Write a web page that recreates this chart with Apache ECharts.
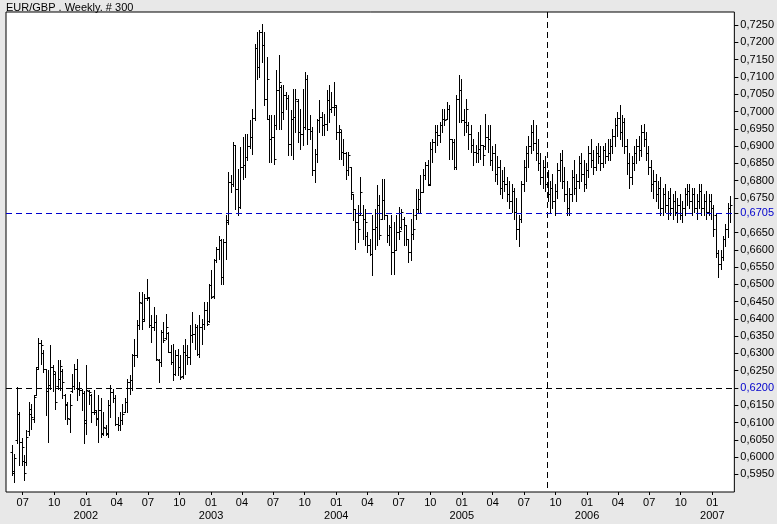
<!DOCTYPE html>
<html>
<head>
<meta charset="utf-8">
<script src="https://cdn.jsdelivr.net/npm/echarts@6/dist/echarts.min.js"></script>
<style>
html,body{margin:0;padding:0;background:#e8e8e8;}
#chart{width:777px;height:524px;}
</style>
</head>
<body>
<div id="chart"></div>
<script>
// Weekly EUR/GBP OHLC, 300 bars, first bar week of 2001-05-31
const firstWeek = '2001-05-31';
const opens = [
0.6015,0.5955,0.6050,0.6125,0.6045,0.5990,0.5985,0.6075,0.6125,0.6110,
0.6180,0.6260,0.6330,0.6300,0.6255,0.6190,0.6210,0.6260,0.6240,0.6205,
0.6225,0.6250,0.6180,0.6150,0.6110,0.6190,0.6205,0.6256,0.6200,0.6194,
0.6185,0.6100,0.6190,0.6180,0.6130,0.6130,0.6110,0.6135,0.6070,0.6085,
0.6068,0.6150,0.6188,0.6170,0.6097,0.6092,0.6106,0.6130,0.6160,0.6217,
0.6222,0.6294,0.6295,0.6382,0.6445,0.6400,0.6459,0.6460,0.6382,0.6377,
0.6390,0.6280,0.6275,0.6362,0.6345,0.6360,0.6304,0.6275,0.6241,0.6294,
0.6260,0.6235,0.6304,0.6294,0.6290,0.6352,0.6355,0.6377,0.6299,0.6377,
0.6386,0.6425,0.6395,0.6497,0.6465,0.6570,0.6603,0.6627,0.6521,0.6622,
0.6685,0.6796,0.6790,0.6902,0.6777,0.6725,0.6840,0.6845,0.6868,0.6900,
0.6926,0.6980,0.7185,0.7129,0.7230,0.7192,0.7037,0.6979,0.6921,0.6925,
0.6960,0.7061,0.7070,0.6999,0.7047,0.7040,0.6907,0.6979,0.6985,0.7030,
0.6941,0.6936,0.6955,0.7095,0.6950,0.6945,0.6830,0.6878,0.6975,0.6985,
0.6960,0.6965,0.7032,0.7008,0.7013,0.7013,0.6940,0.6940,0.6883,0.6880,
0.6830,0.6839,0.6762,0.6719,0.6680,0.6700,0.6700,0.6690,0.6640,0.6613,
0.6589,0.6661,0.6665,0.6729,0.6690,0.6743,0.6700,0.6642,0.6665,0.6594,
0.6600,0.6651,0.6665,0.6690,0.6671,0.6632,0.6594,0.6645,0.6700,0.6719,
0.6748,0.6767,0.6815,0.6844,0.6790,0.6892,0.6912,0.6941,0.6931,0.6960,
0.6979,0.6979,0.7008,0.6921,0.6912,0.6839,0.7037,0.7061,0.6975,0.6970,
0.6960,0.6936,0.6902,0.6883,0.6880,0.6892,0.6902,0.6900,0.6926,0.6920,
0.6860,0.6880,0.6820,0.6840,0.6780,0.6800,0.6790,0.6760,0.6740,0.6770,
0.6710,0.6660,0.6690,0.6790,0.6840,0.6880,0.6900,0.6940,0.6910,0.6880,
0.6850,0.6810,0.6840,0.6790,0.6760,0.6780,0.6740,0.6770,0.6830,0.6860,
0.6800,0.6760,0.6720,0.6760,0.6810,0.6780,0.6800,0.6850,0.6820,0.6790,
0.6830,0.6880,0.6860,0.6840,0.6880,0.6870,0.6850,0.6890,0.6870,0.6880,
0.6900,0.6930,0.6960,0.6980,0.6940,0.6970,0.6900,0.6850,0.6810,0.6850,
0.6880,0.6900,0.6890,0.6940,0.6920,0.6880,0.6840,0.6790,0.6800,0.6760,
0.6780,0.6720,0.6760,0.6730,0.6750,0.6720,0.6740,0.6710,0.6730,0.6700,
0.6720,0.6760,0.6770,0.6740,0.6760,0.6720,0.6740,0.6770,0.6720,0.6740,
0.6710,0.6740,0.6720,0.6700,0.6590,0.6560,0.6580,0.6630,0.6660,0.6720
];
const highs = [
0.6034,0.6010,0.6203,0.6130,0.6054,0.6005,0.6078,0.6160,0.6155,0.6180,
0.6261,0.6345,0.6338,0.6309,0.6256,0.6251,0.6323,0.6266,0.6246,0.6280,
0.6280,0.6256,0.6184,0.6160,0.6182,0.6241,0.6270,0.6285,0.6217,0.6198,
0.6190,0.6266,0.6194,0.6184,0.6194,0.6136,0.6179,0.6170,0.6130,0.6092,
0.6165,0.6208,0.6198,0.6179,0.6116,0.6130,0.6155,0.6170,0.6227,0.6237,
0.6299,0.6343,0.6396,0.6478,0.6478,0.6473,0.6516,0.6463,0.6410,0.6434,
0.6410,0.6285,0.6367,0.6391,0.6415,0.6362,0.6323,0.6328,0.6309,0.6314,
0.6294,0.6323,0.6343,0.6323,0.6381,0.6420,0.6386,0.6381,0.6410,0.6401,
0.6449,0.6449,0.6502,0.6540,0.6574,0.6608,0.6641,0.6632,0.6632,0.6700,
0.6825,0.6815,0.6912,0.6902,0.6834,0.6897,0.6926,0.6936,0.6935,0.6975,
0.7008,0.7196,0.7230,0.7235,0.7254,0.7230,0.7158,0.6989,0.6989,0.6989,
0.7119,0.7163,0.7076,0.7076,0.7057,0.7047,0.7003,0.7066,0.7066,0.7037,
0.7008,0.7066,0.7114,0.7105,0.6989,0.6955,0.6892,0.6979,0.7032,0.6999,
0.6994,0.7061,0.7076,0.7057,0.7085,0.7018,0.6960,0.6946,0.6921,0.6883,
0.6883,0.6839,0.6762,0.6719,0.6729,0.6811,0.6729,0.6719,0.6651,0.6632,
0.6700,0.6719,0.6786,0.6757,0.6806,0.6806,0.6700,0.6671,0.6700,0.6680,
0.6700,0.6724,0.6719,0.6695,0.6671,0.6632,0.6690,0.6719,0.6777,0.6777,
0.6815,0.6835,0.6854,0.6859,0.6912,0.6921,0.6960,0.6960,0.6970,0.7008,
0.7008,0.7028,0.7018,0.6921,0.6921,0.7047,0.7105,0.7095,0.7008,0.7037,
0.6970,0.6960,0.6921,0.6902,0.6941,0.6960,0.6902,0.6994,0.6960,0.6960,
0.6900,0.6905,0.6870,0.6860,0.6830,0.6840,0.6810,0.6800,0.6790,0.6780,
0.6750,0.6700,0.6800,0.6860,0.6900,0.6930,0.6960,0.6975,0.6960,0.6920,
0.6880,0.6860,0.6870,0.6830,0.6800,0.6820,0.6790,0.6850,0.6880,0.6890,
0.6840,0.6800,0.6780,0.6830,0.6860,0.6820,0.6870,0.6880,0.6860,0.6850,
0.6900,0.6920,0.6890,0.6900,0.6910,0.6900,0.6900,0.6910,0.6920,0.6920,
0.6950,0.6980,0.7000,0.7020,0.6990,0.6980,0.6920,0.6880,0.6870,0.6900,
0.6920,0.6930,0.6960,0.6965,0.6940,0.6900,0.6860,0.6830,0.6820,0.6800,
0.6810,0.6780,0.6790,0.6770,0.6780,0.6760,0.6770,0.6750,0.6760,0.6740,
0.6780,0.6790,0.6790,0.6780,0.6780,0.6760,0.6790,0.6790,0.6760,0.6770,
0.6760,0.6760,0.6730,0.6705,0.6600,0.6600,0.6640,0.6675,0.6735,0.6755
];
const lows = [
0.5947,0.5928,0.6040,0.5976,0.5976,0.5933,0.5976,0.6063,0.6080,0.6102,
0.6180,0.6255,0.6270,0.6247,0.6121,0.6044,0.6198,0.6190,0.6140,0.6198,
0.6194,0.6170,0.6111,0.6097,0.6073,0.6188,0.6198,0.6165,0.6179,0.6135,
0.6042,0.6068,0.6155,0.6102,0.6126,0.6092,0.6044,0.6059,0.6063,0.6063,
0.6059,0.6116,0.6160,0.6092,0.6078,0.6078,0.6097,0.6130,0.6130,0.6184,
0.6194,0.6265,0.6290,0.6372,0.6372,0.6393,0.6454,0.6377,0.6333,0.6367,
0.6280,0.6217,0.6265,0.6333,0.6343,0.6304,0.6270,0.6222,0.6237,0.6237,
0.6227,0.6230,0.6241,0.6270,0.6270,0.6333,0.6314,0.6294,0.6290,0.6328,
0.6372,0.6381,0.6390,0.6459,0.6460,0.6565,0.6574,0.6502,0.6502,0.6574,
0.6675,0.6767,0.6785,0.6719,0.6700,0.6720,0.6805,0.6810,0.6860,0.6895,
0.6878,0.6975,0.7095,0.7100,0.7143,0.7018,0.6979,0.6854,0.6854,0.6849,
0.6950,0.6950,0.6950,0.6979,0.7008,0.6873,0.6873,0.6864,0.6941,0.6912,
0.6892,0.6902,0.6950,0.6907,0.6921,0.6815,0.6796,0.6854,0.6941,0.6931,
0.6931,0.6946,0.6970,0.6999,0.6989,0.6921,0.6864,0.6864,0.6844,0.6806,
0.6815,0.6748,0.6685,0.6603,0.6622,0.6700,0.6632,0.6613,0.6594,0.6584,
0.6526,0.6603,0.6613,0.6632,0.6690,0.6690,0.6622,0.6613,0.6531,0.6531,
0.6598,0.6632,0.6661,0.6613,0.6613,0.6565,0.6569,0.6632,0.6690,0.6709,
0.6709,0.6767,0.6806,0.6786,0.6786,0.6854,0.6883,0.6902,0.6912,0.6941,
0.6960,0.6979,0.6864,0.6864,0.6835,0.6835,0.6970,0.6970,0.6931,0.6941,
0.6892,0.6883,0.6844,0.6854,0.6854,0.6864,0.6844,0.6892,0.6883,0.6844,
0.6830,0.6800,0.6790,0.6760,0.6750,0.6770,0.6740,0.6720,0.6710,0.6690,
0.6630,0.6612,0.6680,0.6770,0.6800,0.6840,0.6880,0.6890,0.6860,0.6830,
0.6790,0.6780,0.6770,0.6740,0.6710,0.6720,0.6700,0.6750,0.6800,0.6780,
0.6740,0.6700,0.6700,0.6740,0.6760,0.6740,0.6780,0.6800,0.6770,0.6780,
0.6810,0.6840,0.6820,0.6830,0.6850,0.6830,0.6840,0.6850,0.6860,0.6860,
0.6880,0.6900,0.6930,0.6920,0.6900,0.6880,0.6820,0.6780,0.6790,0.6830,
0.6850,0.6860,0.6870,0.6900,0.6860,0.6820,0.6770,0.6750,0.6740,0.6720,
0.6700,0.6700,0.6710,0.6690,0.6700,0.6690,0.6700,0.6680,0.6690,0.6680,
0.6700,0.6730,0.6720,0.6700,0.6710,0.6690,0.6720,0.6700,0.6700,0.6690,
0.6700,0.6690,0.6640,0.6580,0.6521,0.6545,0.6570,0.6610,0.6637,0.6680
];
const closes = [
0.5960,0.5998,0.6125,0.6045,0.6030,0.5955,0.6058,0.6140,0.6115,0.6175,
0.6256,0.6330,0.6323,0.6255,0.6190,0.6200,0.6261,0.6250,0.6160,0.6227,
0.6265,0.6218,0.6155,0.6112,0.6150,0.6205,0.6256,0.6198,0.6194,0.6185,
0.6106,0.6194,0.6188,0.6130,0.6135,0.6112,0.6135,0.6068,0.6087,0.6070,
0.6150,0.6188,0.6170,0.6097,0.6092,0.6106,0.6126,0.6160,0.6217,0.6222,
0.6294,0.6295,0.6382,0.6449,0.6395,0.6459,0.6462,0.6382,0.6377,0.6390,
0.6285,0.6275,0.6362,0.6338,0.6377,0.6304,0.6275,0.6241,0.6294,0.6260,
0.6232,0.6304,0.6294,0.6290,0.6352,0.6355,0.6377,0.6299,0.6377,0.6386,
0.6425,0.6386,0.6497,0.6463,0.6569,0.6603,0.6627,0.6521,0.6622,0.6680,
0.6796,0.6791,0.6902,0.6777,0.6724,0.6840,0.6845,0.6868,0.6900,0.6926,
0.6980,0.7185,0.7129,0.7230,0.7192,0.7037,0.7095,0.6921,0.6925,0.6864,
0.7061,0.7085,0.6999,0.7047,0.7040,0.6907,0.6979,0.6985,0.7037,0.6941,
0.6936,0.6955,0.7095,0.6950,0.6945,0.6830,0.6878,0.6975,0.6985,0.6960,
0.6965,0.7032,0.7008,0.7013,0.7018,0.6940,0.6950,0.6883,0.6880,0.6830,
0.6873,0.6767,0.6719,0.6680,0.6660,0.6767,0.6690,0.6680,0.6613,0.6589,
0.6661,0.6665,0.6729,0.6642,0.6743,0.6700,0.6642,0.6665,0.6594,0.6600,
0.6651,0.6655,0.6709,0.6671,0.6632,0.6594,0.6645,0.6661,0.6719,0.6748,
0.6767,0.6815,0.6844,0.6786,0.6892,0.6912,0.6941,0.6931,0.6960,0.6979,
0.6975,0.7008,0.6921,0.6912,0.6839,0.7037,0.7061,0.6975,0.6970,0.7008,
0.6936,0.6902,0.6883,0.6880,0.6892,0.6902,0.6873,0.6926,0.6920,0.6859,
0.6880,0.6820,0.6840,0.6780,0.6800,0.6790,0.6760,0.6740,0.6770,0.6710,
0.6660,0.6690,0.6790,0.6840,0.6880,0.6900,0.6940,0.6910,0.6880,0.6850,
0.6810,0.6840,0.6790,0.6760,0.6780,0.6740,0.6770,0.6830,0.6860,0.6800,
0.6760,0.6720,0.6760,0.6810,0.6780,0.6800,0.6850,0.6820,0.6790,0.6830,
0.6880,0.6860,0.6840,0.6880,0.6870,0.6850,0.6890,0.6870,0.6880,0.6900,
0.6930,0.6960,0.6980,0.6940,0.6970,0.6900,0.6850,0.6810,0.6850,0.6880,
0.6900,0.6890,0.6940,0.6920,0.6880,0.6840,0.6790,0.6800,0.6760,0.6780,
0.6720,0.6760,0.6730,0.6750,0.6720,0.6740,0.6710,0.6730,0.6700,0.6720,
0.6760,0.6770,0.6740,0.6760,0.6720,0.6740,0.6770,0.6720,0.6740,0.6710,
0.6740,0.6720,0.6660,0.6590,0.6560,0.6580,0.6630,0.6660,0.6720,0.6730
];
const yTickValues = [0.5950,0.6000,0.6050,0.6100,0.6150,0.6200,0.6250,0.6300,0.6350,0.6400,
  0.6450,0.6500,0.6550,0.6600,0.6650,0.6705,0.6750,0.6800,0.6850,0.6900,0.6950,0.7000,
  0.7050,0.7100,0.7150,0.7200,0.7250];
const highlightedValues = [0.6705, 0.6200];
const xTickDates = ['2001-07-01','2001-10-01','2002-01-01','2002-04-01','2002-07-01','2002-10-01',
  '2003-01-01','2003-04-01','2003-07-01','2003-10-01','2004-01-01','2004-04-01','2004-07-01',
  '2004-10-01','2005-01-01','2005-04-01','2005-07-01','2005-10-01','2006-01-01','2006-04-01',
  '2006-07-01','2006-10-01','2007-01-01'];
const lastPrice = 0.6705;
const crossPrice = 0.6200;
const crossDate = '2005-09-06';
const titleText = 'EUR/GBP . Weekly. # 300';

const DAY = 86400000, WEEK = 7 * DAY;
function utc(s) { const p = s.split('-').map(Number); return Date.UTC(p[0], p[1] - 1, p[2]); }
const t0 = utc(firstWeek);
const data = opens.map((o, i) => [t0 + i * WEEK, o, highs[i], lows[i], closes[i]]);
const xTicks = xTickDates.map(utc);
const FONT = 'Liberation Sans, Arial, sans-serif';

// Reference lines drawn by custom series through the axes' own scales
function refLineSeries(kind, value, color) {
  return {
    type: 'custom', silent: true, clip: true, z: 3,
    data: [[value]],
    encode: kind === 'h' ? {y: 0} : {x: 0},
    itemStyle: {color: color},
    renderItem: function (params, api) {
      const v = api.value(0);
      const cs = params.coordSys;
      let shape;
      if (kind === 'h') {
        const y = Math.round(api.coord([t0, v])[1]) + 0.5;
        shape = {x1: cs.x, y1: y, x2: cs.x + cs.width, y2: y};
      } else {
        const x = Math.round(api.coord([v, lastPrice])[0]) + 0.5;
        shape = {x1: x, y1: cs.y, x2: x, y2: cs.y + cs.height};
      }
      return {type: 'line', shape: shape,
        style: {stroke: color, fill: null, lineWidth: 1, lineDash: [6, 4]}};
    }
  };
}

const chart = echarts.init(document.getElementById('chart'), null, {renderer: 'canvas'});
chart.setOption({
  backgroundColor: '#e8e8e8',
  animation: false,
  title: {
    text: titleText, left: 6, top: 2, padding: 0,
    textStyle: {fontSize: 11, fontWeight: 'normal', color: '#000', fontFamily: FONT}
  },
  grid: {
    left: 6, top: 12, width: 729, height: 480,
    show: true, backgroundColor: '#ffffff', borderColor: '#000', borderWidth: 1
  },
  xAxis: {
    type: 'value',
    min: t0 - 2.5 * WEEK,
    max: t0 + (opens.length - 1 + 1.75) * WEEK,
    axisLine: {show: false},
    splitLine: {show: false},
    axisTick: {show: true, customValues: xTicks, length: 3, lineStyle: {color: '#000'}},
    axisLabel: {
      customValues: xTicks,
      fontSize: 11, color: '#000', fontFamily: FONT, margin: 4, lineHeight: 13,
      formatter: function (v) {
        const d = new Date(Number(v));
        const m = d.getUTCMonth() + 1;
        const mm = (m < 10 ? '0' : '') + m;
        return m === 1 ? mm + '\n' + d.getUTCFullYear() : mm;
      }
    }
  },
  yAxis: {
    type: 'value', position: 'right',
    min: 0.5899, max: 0.7288,
    axisLine: {show: false},
    splitLine: {show: false},
    axisTick: {show: true, customValues: yTickValues, length: 4, lineStyle: {color: '#000'}},
    axisLabel: {
      customValues: yTickValues,
      fontSize: 11, fontFamily: FONT, margin: 6,
      color: function (v) {
        const n = Number(v);
        return highlightedValues.some(h => Math.abs(h - n) < 1e-6) ? '#0000cc' : '#000';
      },
      formatter: function (v) { return Number(v).toFixed(4).replace('.', ','); }
    }
  },
  series: [
    {
      type: 'custom',
      clip: true,
      z: 2,
      encode: {x: 0, y: [1, 2, 3, 4]},
      data: data,
      renderItem: function (params, api) {
        const t = api.value(0);
        const pO = api.coord([t, api.value(1)]);
        const pH = api.coord([t, api.value(2)]);
        const pL = api.coord([t, api.value(3)]);
        const pC = api.coord([t, api.value(4)]);
        const x = Math.round(pH[0]) + 0.5;
        const yo = Math.round(pO[1]) + 0.5, yc = Math.round(pC[1]) + 0.5;
        const st = {stroke: '#000', lineWidth: 1};
        return {
          type: 'group',
          children: [
            {type: 'line', shape: {x1: x, y1: Math.round(pH[1]), x2: x, y2: Math.round(pL[1]) + 1}, style: st},
            {type: 'line', shape: {x1: x - 2, y1: yo, x2: x, y2: yo}, style: st},
            {type: 'line', shape: {x1: x, y1: yc, x2: x + 2, y2: yc}, style: st}
          ]
        };
      }
    },
    refLineSeries('h', crossPrice, '#000000'),
    refLineSeries('v', utc(crossDate), '#000000'),
    refLineSeries('h', lastPrice, '#0000cc')
  ]
});
</script>
</body>
</html>
